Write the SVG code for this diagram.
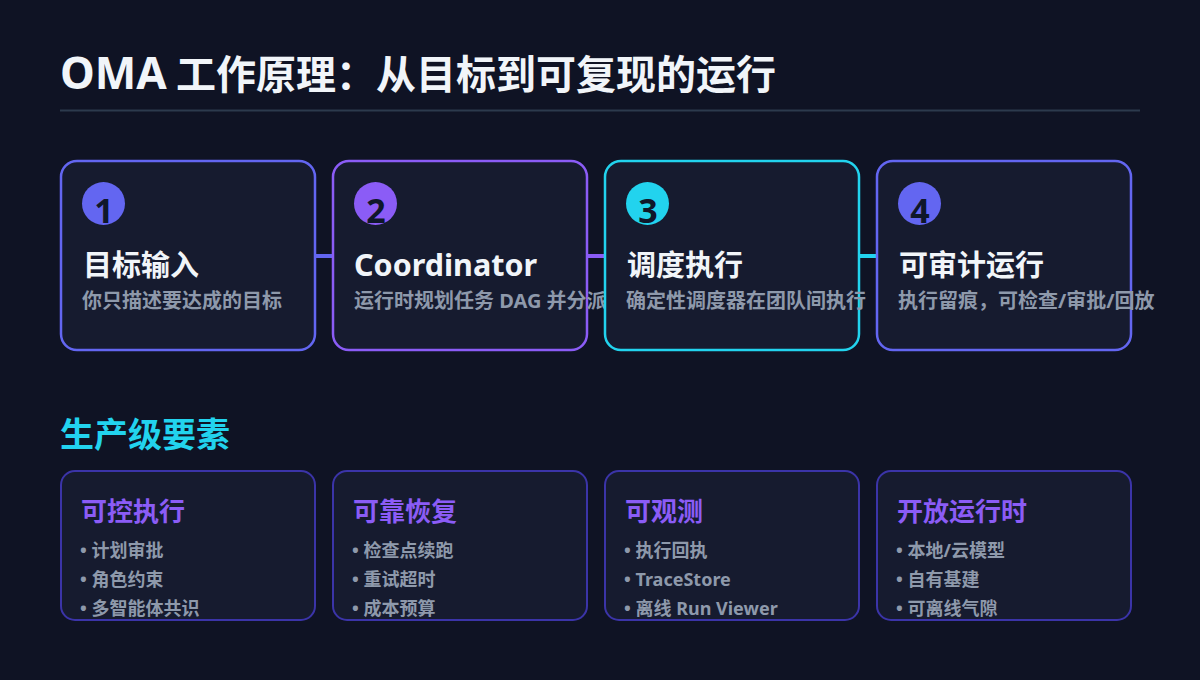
<svg xmlns="http://www.w3.org/2000/svg" width="1200" height="680" viewBox="0 0 1200 680">
<style>
text{font-family:"Noto Sans","Noto Sans CJK SC",sans-serif;}
.title{font-size:40px;font-weight:700;fill:#f1f5f9;}
.card{fill:#161b2f;stroke-width:2.5;}
.num{font-size:34px;font-weight:700;fill:#0f172a;text-anchor:middle;}
.h{font-size:29px;font-weight:700;fill:#f1f5f9;}
.sub{font-size:20px;font-weight:700;fill:#8e99ab;}
.sec{font-size:34px;font-weight:700;fill:#22d3ee;}
.fcard{fill:#161b2f;stroke:#3b34a8;stroke-width:2;}
.fh{font-size:26px;font-weight:700;fill:#8b5cf6;}
.b{font-size:18px;font-weight:700;fill:#8e99ab;}
</style>
<defs>
<clipPath id="c1"><rect x="61" y="471" width="254" height="149" rx="14"/></clipPath>
<clipPath id="c2"><rect x="333" y="471" width="254" height="149" rx="14"/></clipPath>
<clipPath id="c3"><rect x="605" y="471" width="254" height="149" rx="14"/></clipPath>
<clipPath id="c4"><rect x="877" y="471" width="254" height="149" rx="14"/></clipPath>
</defs>
<rect width="1200" height="680" fill="#0f1324"/>
<text class="title" x="60" y="89"><tspan font-size="44">OMA</tspan><tspan x="176">工作原理：从目标到可复现的运行</tspan></text>
<line x1="60" y1="110.5" x2="1140" y2="110.5" stroke="#2c3a4d" stroke-width="2"/>
<g id="connectors">
<line x1="315" y1="256" x2="333" y2="256" stroke="#6366f1" stroke-width="4"/>
<line x1="587" y1="256" x2="605" y2="256" stroke="#8b5cf6" stroke-width="4"/>
<line x1="859" y1="256" x2="877" y2="256" stroke="#22d3ee" stroke-width="4"/>
</g>
<g id="step1">
<rect class="card" x="61" y="161" width="254" height="189" rx="16" stroke="#6366f1"/>
<circle cx="103.5" cy="203.5" r="21.5" fill="#6366f1"/>
<text class="num" x="104" y="223">1</text>
<text class="h" x="83" y="276">目标输入</text>
<text class="sub" x="82" y="308">你只描述要达成的目标</text>
</g>
<g id="step2">
<rect class="card" x="333" y="161" width="254" height="189" rx="16" stroke="#8b5cf6"/>
<circle cx="375.5" cy="203.5" r="21.5" fill="#8b5cf6"/>
<text class="num" x="376" y="223">2</text>
<text class="h" x="354" y="276" style="font-size:30.5px">Coordinator</text>
<text class="sub" x="354" y="308">运行时规划任务 DAG 并分派</text>
</g>
<g id="step3">
<rect class="card" x="605" y="161" width="254" height="189" rx="16" stroke="#22d3ee"/>
<circle cx="647.5" cy="203.5" r="21.5" fill="#22d3ee"/>
<text class="num" x="648" y="223">3</text>
<text class="h" x="627" y="276">调度执行</text>
<text class="sub" x="626" y="308">确定性调度器在团队间执行</text>
</g>
<g id="step4">
<rect class="card" x="877" y="161" width="254" height="189" rx="16" stroke="#6366f1"/>
<circle cx="919.5" cy="203.5" r="21.5" fill="#6366f1"/>
<text class="num" x="920" y="223">4</text>
<text class="h" x="899" y="276">可审计运行</text>
<text class="sub" x="898" y="308">执行留痕，可检查/审批/回放</text>
</g>
<text class="sec" x="60" y="447">生产级要素</text>
<g id="feature1">
<rect class="fcard" x="61" y="471" width="254" height="149" rx="14"/>
<g clip-path="url(#c1)">
<text class="fh" x="81" y="521">可控执行</text>
<text class="b" x="80" y="557">• 计划审批</text>
<text class="b" x="80" y="586">• 角色约束</text>
<text class="b" x="80" y="615">• 多智能体共识</text>
</g>
</g>
<g id="feature2">
<rect class="fcard" x="333" y="471" width="254" height="149" rx="14"/>
<g clip-path="url(#c2)">
<text class="fh" x="353" y="521">可靠恢复</text>
<text class="b" x="352" y="557">• 检查点续跑</text>
<text class="b" x="352" y="586">• 重试超时</text>
<text class="b" x="352" y="615">• 成本预算</text>
</g>
</g>
<g id="feature3">
<rect class="fcard" x="605" y="471" width="254" height="149" rx="14"/>
<g clip-path="url(#c3)">
<text class="fh" x="625" y="521">可观测</text>
<text class="b" x="624" y="557">• 执行回执</text>
<text class="b" x="624" y="586">• TraceStore</text>
<text class="b" x="624" y="615">• 离线 Run Viewer</text>
</g>
</g>
<g id="feature4">
<rect class="fcard" x="877" y="471" width="254" height="149" rx="14"/>
<g clip-path="url(#c4)">
<text class="fh" x="897" y="521">开放运行时</text>
<text class="b" x="896" y="557">• 本地/云模型</text>
<text class="b" x="896" y="586">• 自有基建</text>
<text class="b" x="896" y="615">• 可离线气隙</text>
</g>
</g>
</svg>
